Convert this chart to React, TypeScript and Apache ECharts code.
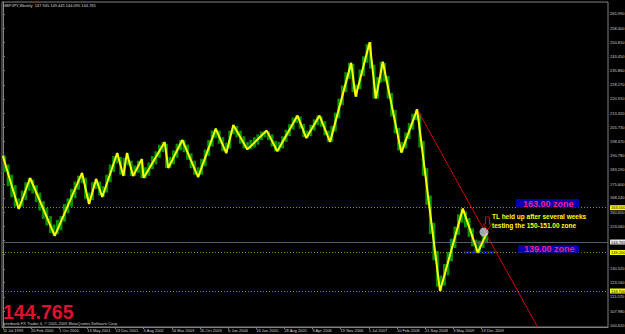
import React, { useEffect, useRef } from "react";
import * as echarts from "echarts";

// ---- data ----
const dateLabels = [
  "11 Jul 1999", "20 Feb 2000", "1 Oct 2000", "13 May 2001", "23 Dec 2001", "4 Aug 2002",
  "16 Mar 2003", "26 Oct 2003", "6 Jun 2004", "16 Jan 2005", "28 Aug 2005", "9 Apr 2006",
  "19 Nov 2006", "1 Jul 2007", "10 Feb 2008", "21 Sep 2008", "3 May 2009", "13 Dec 2009",
];
const dateLabelWeeks = [0, 32, 64, 96, 128, 160, 192, 224, 256, 288, 320, 352, 384, 416, 448, 480, 512, 544];

const priceTicks = [
  265.99, 258.4, 250.81, 243.45, 235.86, 228.27, 220.91, 213.32, 205.73, 198.37, 190.78, 183.19,
  175.6, 168.24, 160.65, 153.06, 145.7, 138.11, 130.52, 123.16, 115.57, 107.98, 100.62,
];
// labels that are hidden behind the price boxes on the right scale
const hiddenPriceLabels = [145.7, 138.11];

// ZigZag vertices (week index from 11 Jul 1999, price)
const zigzagWeeks = [0, 18, 31, 59, 90, 98, 106, 113, 130, 137, 141, 148, 158, 160, 184, 188, 204, 222, 242, 254, 262, 278, 300, 312, 335, 345, 360, 372, 396, 401, 417, 424, 432, 453, 471, 497, 523, 540, 550];
const zigzagPrices = [190.5, 162.3, 178.8, 148.0, 181.5, 165.0, 178.3, 168.7, 192.1, 179.9, 192.1, 179.9, 188.9, 178.8, 197.9, 184.1, 199.0, 179.3, 205, 192, 207, 194, 204, 193, 212, 200, 212, 198, 240, 222, 251, 221, 240.6, 192.3, 215.3, 118.7, 162.5, 139.2, 149.5];

// Price bars, 4-week groups: lows and highs
const BUCKET_WEEKS = 4;
const barLows = [
  182.0, 174.5, 168.5, 163.5, 162.3, 163.5, 167.0, 172.0, 170.5, 166.0, 161.5, 157.0, 153.5, 149.5, 148.0, 149.0,
  151.0, 155.5, 160.0, 163.5, 168.0, 172.5, 176.0, 167.5, 165.0, 167.0, 173.0, 169.5, 168.7, 171.0, 176.5, 182.0,
  186.5, 180.5, 179.9, 185.5, 179.9, 179.9, 181.5, 178.8, 178.8, 180.0, 183.5, 186.0, 189.5, 192.5, 184.1, 184.1,
  186.0, 189.5, 193.5, 192.5, 188.5, 184.0, 180.5, 179.3, 180.5, 185.0, 190.5, 195.5, 200.0, 197.0, 193.0, 192.0,
  194.5, 202.0, 200.5, 197.0, 194.5, 194.0, 194.0, 195.0, 196.5, 199.0, 200.5, 199.0, 195.5, 193.0, 193.0, 194.5,
  198.0, 201.0, 204.5, 208.0, 205.0, 200.5, 200.0, 201.0, 204.0, 207.0, 206.0, 201.5, 198.0, 198.0, 203.5, 210.5,
  217.5, 224.5, 231.5, 224.5, 222.0, 226.0, 233.0, 240.0, 237.0, 221.0, 221.0, 229.5, 230.0, 221.0, 211.5, 202.5,
  193.5, 192.3, 194.5, 199.5, 204.5, 209.5, 195.0, 180.0, 164.5, 149.0, 135.0, 121.0, 118.7, 121.5, 127.0, 134.5,
  141.5, 148.5, 155.0, 152.5, 147.5, 142.5, 139.2, 139.5, 141.5, 144.1,
];
const barHighs = [
  190.5, 186.0, 180.5, 175.0, 168.0, 172.0, 176.5, 178.8, 178.0, 175.0, 171.0, 166.5, 163.0, 158.5, 154.0, 156.5,
  158.5, 165.0, 168.0, 173.0, 177.0, 180.0, 181.5, 179.0, 171.0, 176.5, 178.3, 177.0, 174.5, 180.5, 186.0, 190.5,
  192.1, 190.0, 189.5, 192.1, 188.0, 185.5, 188.0, 188.9, 184.5, 187.0, 190.5, 193.0, 196.5, 197.9, 197.0, 190.0,
  193.5, 197.0, 199.0, 199.0, 196.5, 192.0, 188.0, 184.5, 189.0, 194.0, 199.0, 204.0, 205.0, 204.0, 200.5, 197.5,
  204.0, 207.0, 206.5, 204.0, 201.0, 198.0, 199.0, 200.5, 202.0, 203.5, 204.0, 203.5, 202.0, 198.5, 198.0, 201.0,
  204.5, 207.5, 211.0, 212.0, 211.5, 207.5, 204.0, 207.0, 210.0, 212.0, 211.5, 209.0, 204.0, 206.5, 213.5, 221.0,
  228.0, 235.0, 240.0, 239.5, 228.5, 236.5, 243.5, 250.0, 251.0, 239.0, 232.5, 240.6, 240.0, 233.0, 224.0, 215.0,
  205.5, 198.0, 203.0, 208.0, 213.0, 215.3, 213.0, 198.5, 184.0, 169.5, 155.0, 140.0, 127.0, 133.0, 139.5, 146.5,
  153.0, 159.5, 162.5, 161.0, 157.5, 152.0, 146.0, 145.5, 149.0, 149.4,
];

// Trend line (week, price)
const trendWeeks = [471, 608];
const trendPrices = [215.3, 99.6];

const zoneLevels = [163.0, 139.2, 118.7];
const currentPrice = 144.765;
const zoneBoxWeeks = [524, 560];
const zoneBoxPrices = [140.0, 138.4];

const titleText = "GBPJPY,Weekly  147.945 149.445 144.095 144.765";
const copyrightText = "Interbank FX Trader 4, \u00a9 2001-2009 MetaQuotes Software Corp.";

// ---- axes range ----
const X_MIN = -1;
const X_MAX = 688;
const Y_MIN = 99.57;
const Y_MAX = 272.37;

const FONT = "Liberation Sans";
const SMALL = 4;

export default function App() {
  const ref = useRef<HTMLDivElement>(null);

  useEffect(() => {
    if (!ref.current) return;
    const chart = echarts.init(ref.current, undefined, { renderer: "svg" });

    const barData = barLows.map((lo, i) => [i * BUCKET_WEEKS + BUCKET_WEEKS / 2, lo, barHighs[i]]);
    const zigData = zigzagWeeks.map((w, i) => [w, zigzagPrices[i]]);
    const trendData = trendWeeks.map((w, i) => [w, trendPrices[i]]);
    const labelValues = priceTicks.filter((v) => hiddenPriceLabels.indexOf(v) < 0);

    const priceBoxLabel = (text: string, bg: string) => ({
      show: true,
      position: "end",
      distance: 2,
      formatter: text,
      backgroundColor: bg,
      color: "#000",
      fontSize: SMALL,
      lineHeight: 5,
      fontFamily: FONT,
      padding: [0, 1, 0, 1],
    });

    const zoneMarkLines = zoneLevels.map((v) => ({
      yAxis: v,
      lineStyle: { color: "#8c8c00", type: [1, 2], width: 1 },
      label: priceBoxLabel(v.toFixed(3), "#ffff00"),
    }));

    const option: any = {
      animation: false,
      backgroundColor: "#000000",
      grid: {
        left: 2,
        right: 17,
        top: 2,
        bottom: 7,
        show: true,
        borderColor: "#808080",
        borderWidth: 1,
        containLabel: false,
        outerBoundsMode: "none",
      },
      xAxis: {
        type: "value",
        min: X_MIN,
        max: X_MAX,
        axisLine: { show: true, lineStyle: { color: "#808080", width: 1 } },
        axisTick: {
          show: true,
          length: 2,
          lineStyle: { color: "#808080" },
          customValues: dateLabelWeeks,
        },
        axisLabel: {
          show: true,
          customValues: dateLabelWeeks,
          formatter: (v: number) => dateLabels[dateLabelWeeks.indexOf(Math.round(v))] ?? "",
          color: "#d0d0d0",
          fontSize: SMALL,
          fontFamily: FONT,
          align: "left",
          margin: 1,
          padding: [0, 0, 0, 0],
        },
        splitLine: { show: false },
      },
      yAxis: {
        type: "value",
        position: "right",
        min: Y_MIN,
        max: Y_MAX,
        axisLine: { show: true, lineStyle: { color: "#808080", width: 1 } },
        axisTick: {
          show: true,
          length: 2,
          lineStyle: { color: "#808080" },
          customValues: priceTicks,
        },
        axisLabel: {
          show: true,
          customValues: labelValues,
          formatter: (v: number) => v.toFixed(3),
          color: "#d0d0d0",
          fontSize: SMALL,
          fontFamily: FONT,
          margin: 2,
        },
        splitLine: { show: false },
      },
      series: [
        {
          type: "custom",
          name: "bars",
          data: barData,
          clip: true,
          z: 2,
          renderItem: (params: any, api: any) => {
            const x = api.value(0);
            const top = api.coord([x, api.value(2)]);
            const bot = api.coord([x, api.value(1)]);
            const w = api.size([BUCKET_WEEKS, 0])[0] * 0.85;
            return {
              type: "rect",
              shape: { x: top[0] - w / 2, y: top[1], width: w, height: Math.max(1, bot[1] - top[1]) },
              style: { fill: "#009000" },
            };
          },
        },
        {
          type: "line",
          name: "levels",
          data: [],
          silent: true,
          markLine: {
            symbol: ["none", "none"],
            silent: true,
            animation: false,
            data: [
              ...zoneMarkLines,
              {
                yAxis: currentPrice,
                lineStyle: { color: "#4f5d68", type: "solid", width: 1 },
                label: priceBoxLabel(currentPrice.toFixed(3), "#e8e8e8"),
              },
            ],
          },
        },
        {
          type: "line",
          name: "trend",
          data: trendData,
          showSymbol: false,
          clip: true,
          z: 4,
          lineStyle: { color: "#d40000", width: 1 },
          markArea: {
            silent: true,
            itemStyle: { color: "#0000c8" },
            data: [
              [
                { xAxis: zoneBoxWeeks[0], yAxis: zoneBoxPrices[0] },
                { xAxis: zoneBoxWeeks[1], yAxis: zoneBoxPrices[1] },
              ],
            ],
          },
        },
        {
          type: "line",
          name: "zigzag",
          data: zigData,
          showSymbol: false,
          clip: true,
          z: 5,
          lineStyle: { color: "#ffff00", width: 2 },
        },
      ],
      graphic: [
        {
          type: "text",
          x: 3,
          y: 5.5,
          z: 10,
          style: { text: titleText, fill: "#d8d8d8", fontSize: SMALL, fontFamily: FONT, textVerticalAlign: "middle", verticalAlign: "middle" },
        },
        {
          type: "text",
          x: 3,
          y: 311.5,
          z: 10,
          style: {
            text: "144.765",
            fill: "#e01030",
            fontSize: 19.5,
            lineHeight: 14,
            fontWeight: "bold",
            fontFamily: FONT,
            textVerticalAlign: "middle",
            verticalAlign: "middle",
          },
        },
        {
          type: "text",
          x: 3,
          y: 323.5,
          z: 10,
          style: { text: copyrightText, fill: "#d0d0d0", fontSize: SMALL, lineHeight: 4, fontFamily: FONT, textVerticalAlign: "middle", verticalAlign: "middle" },
        },
        // zone boxes
        { type: "rect", z: 10, shape: { x: 516, y: 199, width: 63, height: 8.7 }, style: { fill: "#0000b0" } },
        {
          type: "text",
          x: 523,
          y: 203.6,
          z: 11,
          style: { text: "163.00 zone", fill: "#f0207a", fontSize: 9, fontWeight: "bold", fontFamily: FONT, textVerticalAlign: "middle", verticalAlign: "middle" },
        },
        { type: "rect", z: 10, shape: { x: 518, y: 245.3, width: 61, height: 7.5 }, style: { fill: "#0000b0" } },
        {
          type: "text",
          x: 524,
          y: 249.3,
          z: 11,
          style: { text: "139.00 zone", fill: "#f0207a", fontSize: 9, fontWeight: "bold", fontFamily: FONT, textVerticalAlign: "middle", verticalAlign: "middle" },
        },
        // comment
        {
          type: "text",
          x: 492,
          y: 216.8,
          z: 11,
          style: { text: "TL held up after several weeks", fill: "#ffff00", fontSize: 6.5, fontWeight: "bold", fontFamily: FONT, textVerticalAlign: "middle", verticalAlign: "middle" },
        },
        {
          type: "text",
          x: 492,
          y: 225.5,
          z: 11,
          style: { text: "testing the 150-151.00 zone", fill: "#ffff00", fontSize: 6.5, fontWeight: "bold", fontFamily: FONT, textVerticalAlign: "middle", verticalAlign: "middle" },
        },
        // highlight circle
        { type: "circle", z: 9, shape: { cx: 484, cy: 232, r: 4.5 }, style: { fill: "rgba(190,196,204,0.85)" } },
        // arrow
        {
          type: "polygon",
          z: 11,
          shape: {
            points: [
              [485.5, 217], [489.5, 217], [489.5, 224], [492, 224], [487.5, 230], [483, 224], [485.5, 224],
            ],
          },
          style: { fill: "none", stroke: "#d00000", lineWidth: 1 },
        },
      ],
    };

    chart.setOption(option);
    return () => chart.dispose();
  }, []);

  return (
    <div
      ref={ref}
      style={{ position: "fixed", left: 0, top: 0, width: 625, height: 334 }}
    />
  );
}
